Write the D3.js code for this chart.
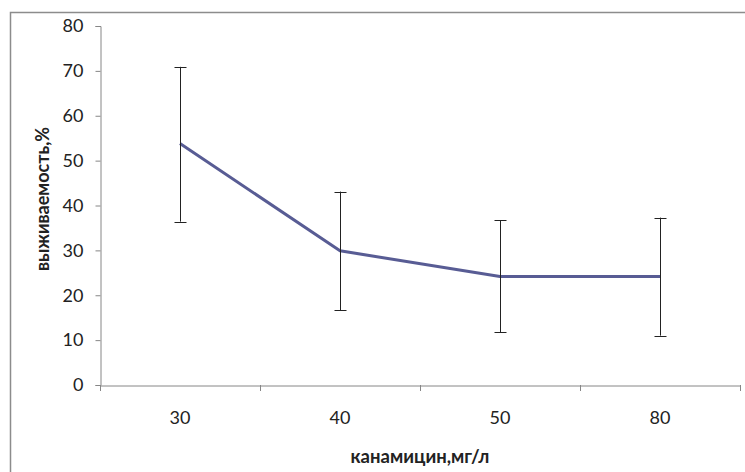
<!DOCTYPE html>
<html><head><meta charset="utf-8">
<script src="https://cdn.jsdelivr.net/npm/d3@7"></script>
<style>body{margin:0;background:#fff}svg{display:block}</style>
</head><body><svg id="c" width="745" height="472"></svg>
<script>
const categories = ["30","40","50","80"];
const means = [53.8, 29.9, 24.2, 24.2];
const upper = [70.9, 43.1, 36.7, 37.3];
const lower = [36.4, 16.7, 11.8, 11.0];
const yTicks = [0,10,20,30,40,50,60,70,80];
const yLabel = "выживаемость,%";
const xLabel = "канамицин,мг/л";

(function(){
const svg = d3.select("#c");
const font = "Lato, 'Open Sans', sans-serif";
svg.append("rect").attr("x",10.5).attr("y",12.5).attr("width",760).attr("height",480)
  .attr("fill","none").attr("stroke","#8c8c8c").attr("stroke-width",1.5);

const mL=100, mR=740, mT=26, mB=385;
const x = d3.scaleBand().domain(categories).range([mL,mR]);
const y = d3.scaleLinear().domain([0,80]).range([mB,mT]);

const yAxis = svg.append("g").attr("transform",`translate(${mL+0.5},0)`)
  .call(d3.axisLeft(y).tickValues(yTicks).tickSize(5).tickPadding(12));
const xAxis = svg.append("g").attr("transform",`translate(0,${mB+0.5})`)
  .call(d3.axisBottom(x).tickSize(0).tickPadding(26));
[yAxis,xAxis].forEach(a=>{
  a.selectAll("path.domain").attr("stroke","#868686");
  a.selectAll("line").attr("stroke","#868686");
  a.selectAll("text").attr("fill","#222").style("font-family",font).style("font-size","18px");
});
const bounds = categories.map(c=>x(c)).concat([x(categories[categories.length-1])+x.bandwidth()]);
svg.append("g").selectAll("line").data(bounds).join("line")
  .attr("x1",d=>Math.round(d)+0.5).attr("x2",d=>Math.round(d)+0.5)
  .attr("y1",mB).attr("y2",mB+6).attr("stroke","#868686");

const cx = c => x(c)+x.bandwidth()/2;
const line = d3.line().x((d,i)=>cx(categories[i])).y(d=>y(d));
svg.append("path").datum(means).attr("d",line).attr("fill","none")
  .attr("stroke","#585c94").attr("stroke-width",3).attr("stroke-linejoin","round");

const eb = svg.append("g").attr("stroke","#222").attr("stroke-width",1);
categories.forEach((c,i)=>{
  const X = Math.round(cx(c))+0.5;
  eb.append("line").attr("x1",X).attr("x2",X).attr("y1",y(upper[i])).attr("y2",y(lower[i]));
  [upper[i],lower[i]].forEach(v=>{
    eb.append("line").attr("x1",X-6).attr("x2",X+6).attr("y1",Math.round(y(v))+0.5).attr("y2",Math.round(y(v))+0.5);
  });
});

svg.append("text").attr("transform","translate(49,199) rotate(-90)")
  .attr("text-anchor","middle").style("font-family",font).style("font-weight","bold")
  .style("font-size","18px").attr("fill","#222").text(yLabel);
svg.append("text").attr("x",420).attr("y",463)
  .attr("text-anchor","middle").style("font-family",font).style("font-weight","bold")
  .style("font-size","18.5px").attr("fill","#222").text(xLabel);
})();
</script></body></html>
